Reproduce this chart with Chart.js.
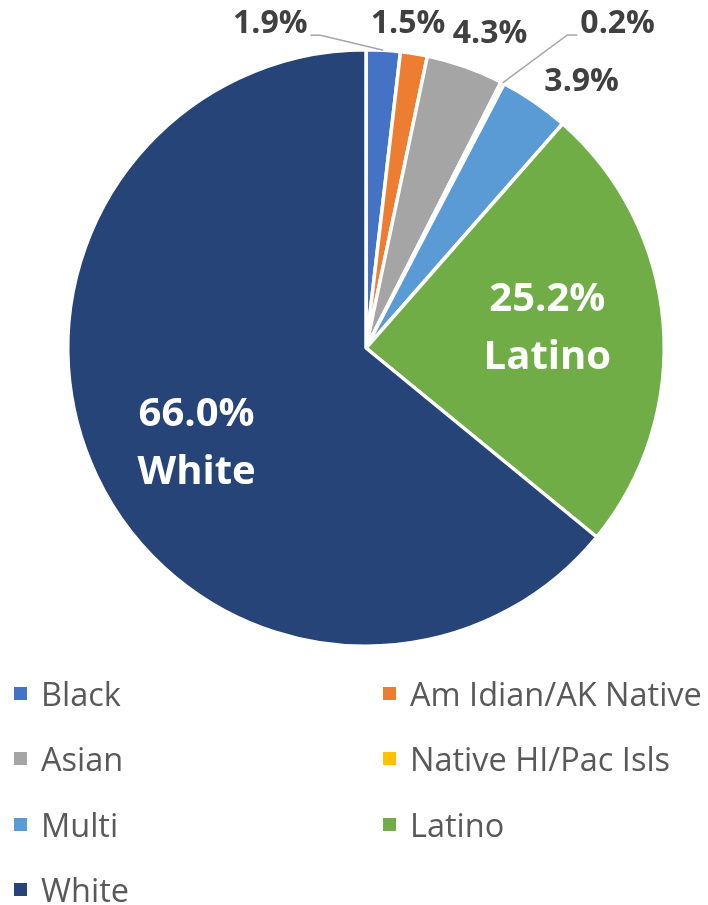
<!DOCTYPE html>
<html><head><meta charset="utf-8">
<script src="https://cdn.jsdelivr.net/npm/chart.js@4.4.1/dist/chart.umd.min.js"></script>
<style>
body{margin:0;background:#fff;width:708px;height:905px;overflow:hidden;font-family:'Open Sans',sans-serif}
#wrap{position:absolute;left:0;top:0;width:708px;height:700px}
#legend{position:absolute;left:0;top:0;width:708px;height:905px;pointer-events:none}
.item{position:absolute;display:flex;align-items:center;font-size:32.5px;color:#595959;white-space:nowrap;height:46px;transform:translateY(-50%)}
.sw{width:13px;height:13px;margin-right:14px;flex:none}
</style></head><body>
<div id="wrap"><canvas id="c"></canvas></div>
<div id="legend"></div>
<script>
const categories = ['Black','Am Idian/AK Native','Asian','Native HI/Pac Isls','Multi','Latino','White'];
const values = [1.9, 1.5, 4.3, 0.2, 3.9, 25.2, 66.0];
const valueLabels = ['1.9%','1.5%','4.3%','0.2%','3.9%','25.2%','66.0%'];
const colors = ['#4472C4','#ED7D31','#A5A5A5','#FFC000','#5B9BD5','#70AD47','#264478'];

// label placement style (offsets from the slice's outer edge at mid-angle, or inner radius fraction)
const outsideOffsets = {0:[-113,-26],1:[-6,-30],2:[25,-33],3:[115,-59],4:[47,-20]};
const leaderIdx = [0,3];
const insideCfg = {5:{r:0.61,dx:0,dy:-4,name:'Latino'},6:{r:0.61,dx:-5,dy:18,name:'White'}};

const labelPlugin = {
  id:'sliceLabels',
  afterDatasetsDraw(chart){
    const ctx = chart.ctx;
    const meta = chart.getDatasetMeta(0);
    meta.data.forEach((arc,i)=>{
      const p = arc.getProps(['x','y','startAngle','endAngle','outerRadius'],true);
      const mid = (p.startAngle+p.endAngle)/2;
      ctx.save();
      if (outsideOffsets[i]) {
        const ax = p.x + Math.cos(mid)*p.outerRadius;
        const ay = p.y + Math.sin(mid)*p.outerRadius;
        const [dx,dy] = outsideOffsets[i];
        const lx = ax+dx, ly = ay+dy;
        ctx.font = "bold 32px 'Open Sans'";
        ctx.fillStyle = '#404040';
        ctx.textAlign='center'; ctx.textBaseline='middle';
        ctx.fillText(valueLabels[i], lx, ly);
        if (leaderIdx.includes(i)) {
          const w = ctx.measureText(valueLabels[i]).width;
          const side = dx<0 ? 1 : -1;
          const sx = lx + side*(w/2+3), sy = ly+11;
          ctx.strokeStyle='#A6A6A6'; ctx.lineWidth=1.5;
          ctx.beginPath();
          ctx.moveTo(sx,sy);
          ctx.lineTo(sx+side*10,sy);
          ctx.lineTo(ax,ay);
          ctx.stroke();
        }
      } else if (insideCfg[i]) {
        const c = insideCfg[i];
        const cx = p.x + Math.cos(mid)*p.outerRadius*c.r + c.dx;
        const cy = p.y + Math.sin(mid)*p.outerRadius*c.r + c.dy;
        ctx.font = "bold 40px 'Open Sans'";
        ctx.fillStyle = '#FFFFFF';
        ctx.textAlign='center'; ctx.textBaseline='middle';
        ctx.fillText(valueLabels[i], cx, cy-29);
        ctx.fillText(c.name, cx, cy+29);
      }
      ctx.restore();
    });
  }
};

new Chart(document.getElementById('c'), {
  type:'pie',
  data:{labels:categories, datasets:[{data:values, backgroundColor:colors, borderColor:'#FFFFFF', borderWidth:3.5}]},
  options:{
    responsive:true, maintainAspectRatio:false, animation:false,
    layout:{padding:{left:24,right:0,top:48,bottom:52}},
    plugins:{legend:{display:false}, tooltip:{enabled:false}}
  },
  plugins:[labelPlugin]
});

// HTML legend, two columns, row-major
const leg = document.getElementById('legend');
const colX = [14, 383];
const rowY = [693, 758, 824, 889];
categories.forEach((name,i)=>{
  const d = document.createElement('div');
  d.className='item';
  d.style.left = colX[i%2]+'px';
  d.style.top = rowY[Math.floor(i/2)]+'px';
  const s = document.createElement('span'); s.className='sw'; s.style.background=colors[i];
  const t = document.createElement('span'); t.textContent=name;
  d.appendChild(s); d.appendChild(t);
  leg.appendChild(d);
});
</script>
</body></html>
